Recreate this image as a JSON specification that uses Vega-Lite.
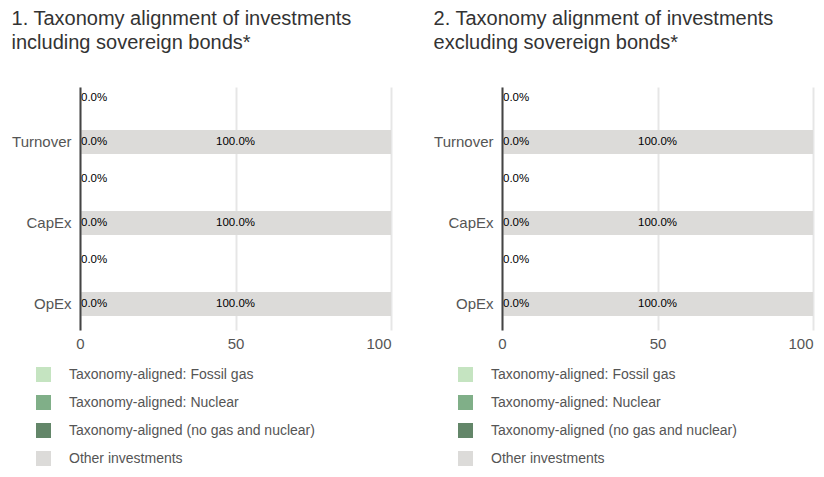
{
  "$schema": "https://vega.github.io/schema/vega-lite/v6.json",
  "background": "white",
  "padding": {"left": 11, "top": 9, "right": 8, "bottom": 4},
  "spacing": 42,
  "config": {
    "view": {"stroke": null},
    "font": "Liberation Sans",
    "title": {"fontSize": 20, "fontWeight": "normal", "color": "#333333", "anchor": "start", "lineHeight": 24, "offset": 33},
    "legend": {"orient": "none", "legendX": -44, "legendY": 280, "title": null, "symbolType": "square", "symbolSize": 225, "symbolStrokeWidth": 0, "labelFontSize": 14, "labelColor": "#555555", "labelOffset": 18, "rowPadding": 13, "columns": 1, "labelLimit": 400}
  },
  "datasets": {
    "d": [
      {"panel": 1, "kpi": "Turnover", "row": "aligned", "series": "Taxonomy-aligned: Fossil gas", "value": 0, "label": "0.0%"},
      {"panel": 1, "kpi": "Turnover", "row": "aligned", "series": "Taxonomy-aligned: Nuclear", "value": 0, "label": "0.0%"},
      {"panel": 1, "kpi": "Turnover", "row": "aligned", "series": "Taxonomy-aligned (no gas and nuclear)", "value": 0, "label": "0.0%"},
      {"panel": 1, "kpi": "Turnover", "row": "other", "series": "Taxonomy-aligned (no gas and nuclear)", "value": 0, "label": "0.0%"},
      {"panel": 1, "kpi": "Turnover", "row": "other", "series": "Other investments", "value": 100, "label": "100.0%"},
      {"panel": 1, "kpi": "CapEx", "row": "aligned", "series": "Taxonomy-aligned: Fossil gas", "value": 0, "label": "0.0%"},
      {"panel": 1, "kpi": "CapEx", "row": "aligned", "series": "Taxonomy-aligned: Nuclear", "value": 0, "label": "0.0%"},
      {"panel": 1, "kpi": "CapEx", "row": "aligned", "series": "Taxonomy-aligned (no gas and nuclear)", "value": 0, "label": "0.0%"},
      {"panel": 1, "kpi": "CapEx", "row": "other", "series": "Taxonomy-aligned (no gas and nuclear)", "value": 0, "label": "0.0%"},
      {"panel": 1, "kpi": "CapEx", "row": "other", "series": "Other investments", "value": 100, "label": "100.0%"},
      {"panel": 1, "kpi": "OpEx", "row": "aligned", "series": "Taxonomy-aligned: Fossil gas", "value": 0, "label": "0.0%"},
      {"panel": 1, "kpi": "OpEx", "row": "aligned", "series": "Taxonomy-aligned: Nuclear", "value": 0, "label": "0.0%"},
      {"panel": 1, "kpi": "OpEx", "row": "aligned", "series": "Taxonomy-aligned (no gas and nuclear)", "value": 0, "label": "0.0%"},
      {"panel": 1, "kpi": "OpEx", "row": "other", "series": "Taxonomy-aligned (no gas and nuclear)", "value": 0, "label": "0.0%"},
      {"panel": 1, "kpi": "OpEx", "row": "other", "series": "Other investments", "value": 100, "label": "100.0%"},
      {"panel": 2, "kpi": "Turnover", "row": "aligned", "series": "Taxonomy-aligned: Fossil gas", "value": 0, "label": "0.0%"},
      {"panel": 2, "kpi": "Turnover", "row": "aligned", "series": "Taxonomy-aligned: Nuclear", "value": 0, "label": "0.0%"},
      {"panel": 2, "kpi": "Turnover", "row": "aligned", "series": "Taxonomy-aligned (no gas and nuclear)", "value": 0, "label": "0.0%"},
      {"panel": 2, "kpi": "Turnover", "row": "other", "series": "Taxonomy-aligned (no gas and nuclear)", "value": 0, "label": "0.0%"},
      {"panel": 2, "kpi": "Turnover", "row": "other", "series": "Other investments", "value": 100, "label": "100.0%"},
      {"panel": 2, "kpi": "CapEx", "row": "aligned", "series": "Taxonomy-aligned: Fossil gas", "value": 0, "label": "0.0%"},
      {"panel": 2, "kpi": "CapEx", "row": "aligned", "series": "Taxonomy-aligned: Nuclear", "value": 0, "label": "0.0%"},
      {"panel": 2, "kpi": "CapEx", "row": "aligned", "series": "Taxonomy-aligned (no gas and nuclear)", "value": 0, "label": "0.0%"},
      {"panel": 2, "kpi": "CapEx", "row": "other", "series": "Taxonomy-aligned (no gas and nuclear)", "value": 0, "label": "0.0%"},
      {"panel": 2, "kpi": "CapEx", "row": "other", "series": "Other investments", "value": 100, "label": "100.0%"},
      {"panel": 2, "kpi": "OpEx", "row": "aligned", "series": "Taxonomy-aligned: Fossil gas", "value": 0, "label": "0.0%"},
      {"panel": 2, "kpi": "OpEx", "row": "aligned", "series": "Taxonomy-aligned: Nuclear", "value": 0, "label": "0.0%"},
      {"panel": 2, "kpi": "OpEx", "row": "aligned", "series": "Taxonomy-aligned (no gas and nuclear)", "value": 0, "label": "0.0%"},
      {"panel": 2, "kpi": "OpEx", "row": "other", "series": "Taxonomy-aligned (no gas and nuclear)", "value": 0, "label": "0.0%"},
      {"panel": 2, "kpi": "OpEx", "row": "other", "series": "Other investments", "value": 100, "label": "100.0%"}
    ]
  },
  "resolve": {"legend": {"color": "independent"}},
  "hconcat": [
    {
      "title": {"text": ["1. Taxonomy alignment of investments", "including sovereign bonds*"]},
      "width": 311,
      "height": 243,
      "data": {"name": "d"},
      "transform": [{"filter": {"field": "panel", "equal": 1}}],
      "encoding": {
        "y": {"field": "kpi", "type": "nominal", "sort": ["Turnover", "CapEx", "OpEx"], "scale": {"paddingInner": 0, "paddingOuter": 0},
          "axis": {"title": null, "ticks": false, "labelPadding": 9, "labelOffset": 14.5, "domainColor": "#444444", "domainWidth": 2, "labelFontSize": 15, "labelColor": "#555555", "zindex": 1}},
        "yOffset": {"field": "row", "type": "nominal", "sort": ["aligned", "other"], "scale": {"range": [-1, 67], "paddingInner": 0.4545, "paddingOuter": 0}}
      },
      "layer": [
        {
          "mark": {"type": "bar"},
          "encoding": {
            "x": {"field": "value", "type": "quantitative", "stack": "zero", "scale": {"domain": [0, 100]},
              "axis": {"title": null, "values": [0, 50, 100], "domain": false, "ticks": false, "gridColor": "#e6e6e6", "gridWidth": 2, "labelFontSize": 15, "labelColor": "#555555", "labelPadding": 6, "labelFlush": false,
                "labelAlign": {"condition": {"test": "datum.value === 100", "value": "right"}, "value": "center"}}},
            "color": {"field": "series", "type": "nominal",
              "scale": {"domain": ["Taxonomy-aligned: Fossil gas", "Taxonomy-aligned: Nuclear", "Taxonomy-aligned (no gas and nuclear)", "Other investments"], "range": ["#c5e4c1", "#80af88", "#638669", "#dcdbd9"]}}
          }
        },
        {
          "transform": [{"filter": "datum.value == 0 && datum.series == 'Taxonomy-aligned (no gas and nuclear)'"}],
          "mark": {"type": "text", "align": "left", "dx": 1, "fontSize": 11.5, "color": "#000000"},
          "encoding": {"x": {"field": "value", "type": "quantitative"}, "text": {"field": "label"}}
        },
        {
          "transform": [{"filter": "datum.value > 0"}],
          "mark": {"type": "text", "align": "center", "fontSize": 11.5, "color": "#000000"},
          "encoding": {"x": {"field": "value", "type": "quantitative", "stack": "zero", "bandPosition": 0.5}, "text": {"field": "label"}}
        }
      ]
    },
    {
      "title": {"text": ["2. Taxonomy alignment of investments", "excluding sovereign bonds*"]},
      "width": 311,
      "height": 243,
      "data": {"name": "d"},
      "transform": [{"filter": {"field": "panel", "equal": 2}}],
      "encoding": {
        "y": {"field": "kpi", "type": "nominal", "sort": ["Turnover", "CapEx", "OpEx"], "scale": {"paddingInner": 0, "paddingOuter": 0},
          "axis": {"title": null, "ticks": false, "labelPadding": 9, "labelOffset": 14.5, "domainColor": "#444444", "domainWidth": 2, "labelFontSize": 15, "labelColor": "#555555", "zindex": 1}},
        "yOffset": {"field": "row", "type": "nominal", "sort": ["aligned", "other"], "scale": {"range": [-1, 67], "paddingInner": 0.4545, "paddingOuter": 0}}
      },
      "layer": [
        {
          "mark": {"type": "bar"},
          "encoding": {
            "x": {"field": "value", "type": "quantitative", "stack": "zero", "scale": {"domain": [0, 100]},
              "axis": {"title": null, "values": [0, 50, 100], "domain": false, "ticks": false, "gridColor": "#e6e6e6", "gridWidth": 2, "labelFontSize": 15, "labelColor": "#555555", "labelPadding": 6, "labelFlush": false,
                "labelAlign": {"condition": {"test": "datum.value === 100", "value": "right"}, "value": "center"}}},
            "color": {"field": "series", "type": "nominal",
              "scale": {"domain": ["Taxonomy-aligned: Fossil gas", "Taxonomy-aligned: Nuclear", "Taxonomy-aligned (no gas and nuclear)", "Other investments"], "range": ["#c5e4c1", "#80af88", "#638669", "#dcdbd9"]}}
          }
        },
        {
          "transform": [{"filter": "datum.value == 0 && datum.series == 'Taxonomy-aligned (no gas and nuclear)'"}],
          "mark": {"type": "text", "align": "left", "dx": 1, "fontSize": 11.5, "color": "#000000"},
          "encoding": {"x": {"field": "value", "type": "quantitative"}, "text": {"field": "label"}}
        },
        {
          "transform": [{"filter": "datum.value > 0"}],
          "mark": {"type": "text", "align": "center", "fontSize": 11.5, "color": "#000000"},
          "encoding": {"x": {"field": "value", "type": "quantitative", "stack": "zero", "bandPosition": 0.5}, "text": {"field": "label"}}
        }
      ]
    }
  ]
}
